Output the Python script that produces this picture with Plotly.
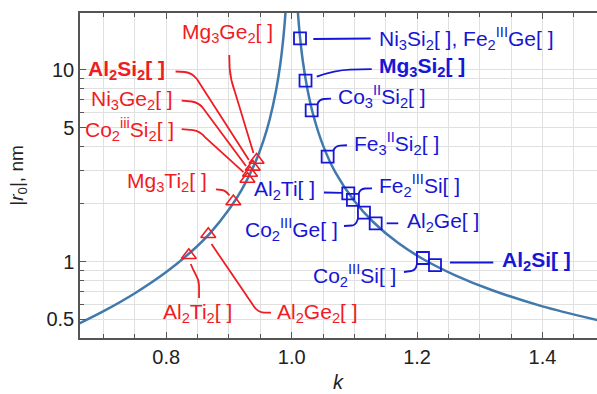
import math
import plotly.graph_objects as go

# Theory curve |r0|(k), read along both branches of the divergence at k = 1
curve_left_k = [0.66, 0.70, 0.75, 0.80, 0.84, 0.87, 0.90, 0.92, 0.94, 0.955,
                0.965, 0.975, 0.982, 0.987, 0.990, 0.992]
curve_left_r = [0.474, 0.552, 0.685, 0.883, 1.13, 1.41, 1.87, 2.36, 3.18, 4.28,
                5.53, 7.78, 10.8, 15.0, 19.6, 24.5]
curve_right_k = [1.008, 1.010, 1.013, 1.018, 1.025, 1.035, 1.05, 1.07, 1.10,
                 1.13, 1.17, 1.21, 1.26, 1.32, 1.40, 1.49]
curve_right_r = [24.7, 19.8, 15.2, 11.0, 7.98, 5.73, 4.04, 2.91, 2.07,
                 1.61, 1.25, 1.03, 0.852, 0.710, 0.585, 0.494]

# Compounds with k < 1 (triangles)
red_labels = [
    "Al<sub>2</sub>Ti<sub>2</sub>[ ]",
    "Al<sub>2</sub>Ge<sub>2</sub>[ ]",
    "Mg<sub>3</sub>Ti<sub>2</sub>[ ]",
    "Co<sub>2</sub><sup>iii</sup>Si<sub>2</sub>[ ]",
    "Ni<sub>3</sub>Ge<sub>2</sub>[ ]",
    "<b>Al<sub>2</sub>Si<sub>2</sub>[ ]</b>",
    "Mg<sub>3</sub>Ge<sub>2</sub>[ ]",
]
red_k = [0.836, 0.867, 0.907, 0.9295, 0.9335, 0.938, 0.944]
red_r = [1.08, 1.39, 2.06, 2.70, 2.90, 3.12, 3.39]

# Compounds with k > 1 (squares)
blue_labels = [
    "Ni<sub>3</sub>Si<sub>2</sub>[ ], Fe<sub>2</sub><sup>III</sup>Ge[ ]",
    "<b>Mg<sub>3</sub>Si<sub>2</sub>[ ]</b>",
    "Co<sub>3</sub><sup>II</sup>Si<sub>2</sub>[ ]",
    "Fe<sub>3</sub><sup>II</sup>Si<sub>2</sub>[ ]",
    "Al<sub>2</sub>Ti[ ]",
    "Fe<sub>2</sub><sup>III</sup>Si[ ]",
    "Co<sub>2</sub><sup>III</sup>Ge[ ]",
    "Al<sub>2</sub>Ge[ ]",
    "Co<sub>2</sub><sup>III</sup>Si[ ]",
    "<b>Al<sub>2</sub>Si[ ]</b>",
]
blue_k = [1.0133, 1.0221, 1.0319, 1.0574, 1.0903, 1.0977, 1.1153, 1.134, 1.2094, 1.2286]
blue_r = [14.6, 8.8, 6.15, 3.53, 2.27, 2.10, 1.80, 1.585, 1.045, 0.96]

x_tick_vals = [0.8, 1.0, 1.2, 1.4]
x_tick_text = ["0.8", "1.0", "1.2", "1.4"]
y_tick_vals = [0.5, 1, 5, 10]
y_tick_text = ["0.5", "1", "5", "10"]

RED = "#f01c24"
BLUE = "#1616d6"
CURVE = "#4179ad"
FONT = "Liberation Sans"

# Label placement relative to each marker, in screen pixels (dx right, dy down):
# (text dx, text dy, text anchor, leader path commands)
red_layout = [
    (8.2, 58, "center", [("M", 1.9, 8.7), ("Q", 4, 14, 7, 19.5), ("Q", 10.2, 25, 10.2, 30), ("L", 10.2, 42.7)]),
    (66.7, 78.3, "left", [("M", 3.2, 9.8), ("L", 44.7, 70.8), ("Q", 49.2, 78.3, 55.7, 78.3), ("L", 62.7, 78.3)]),
    (-24.1, -19.8, "right", [("M", -17.4, -12.2), ("L", -11.4, -11.5), ("Q", -6.9, -10.7, -3.9, -6)]),
    (-71.8, -49.6, "right", [("M", -65.8, -49.9), ("L", -54.5, -48.9), ("Q", -47.5, -47.9, -42.5, -41.9), ("L", -4, -6.9)]),
    (-75, -73, "right", [("M", -68.3, -72.3), ("L", -58.3, -71.5), ("Q", -51.5, -70.7, -47, -65), ("L", -4, -7)]),
    (-85.9, -96.9, "right", [("M", -77.2, -95.4), ("L", -67.9, -94.9), ("Q", -60.9, -94.1, -55.9, -87.9), ("L", -3.9, -6.9)]),
    (-28.6, -127, "center", [("M", -27.3, -105), ("L", -26.9, -92), ("Q", -26.1, -80, -21.6, -68), ("L", -3.1, -7)]),
]
blue_layout = [
    (76.7, -0.1, "left", [("M", 13.3, 0.6), ("L", 70.7, 0.1)]),
    (71.2, -13.8, "left", [("M", 11.2, -4), ("Q", 29.5, -10.5, 44.5, -11), ("L", 66.2, -11.5)]),
    (24.3, -13.7, "left", [("M", 5.8, -6.4), ("Q", 7.3, -10.9, 12.3, -11.4), ("L", 19.3, -11.7)]),
    (24.0, -13.3, "left", [("M", 5.8, -6.1), ("Q", 7.3, -10.6, 12.3, -11.1), ("L", 19.3, -11.4)]),
    (-31.3, -3.4, "right", [("M", -24.3, -0.9), ("L", -6.3, -0.6)]),
    (24.1, -13.9, "left", [("M", 5.8, -6.4), ("Q", 7.1, -10.9, 12.1, -11.4), ("L", 19.1, -11.6)]),
    (-24, 16.3, "right", [("M", -20, 13.3), ("L", -12, 12.8), ("Q", -8, 12.3, -6.5, 7.3), ("L", -6, 5.8)]),
    (29.3, -1.6, "left", [("M", 11, 0), ("L", 22.6, 0)]),
    (-24.7, 17, "right", [("M", -19, 14), ("L", -12, 13), ("Q", -7, 12, -6.2, 6.5)]),
    (65, -4.4, "left", [("M", 15, -2.6), ("L", 58.3, -2.6)]),
]


def leader_path(cmds):
    """SVG path in pixels relative to the anchor point (screen y flipped to up)."""
    parts = []
    for c in cmds:
        op, nums = c[0], c[1:]
        pts = []
        for i in range(0, len(nums), 2):
            pts.append(f"{nums[i]:.1f},{-nums[i + 1]:.1f}")
        parts.append(op + " " + " ".join(pts))
    return " ".join(parts)


fig = go.Figure()

for ks, rs in ((curve_left_k, curve_left_r), (curve_right_k, curve_right_r)):
    fig.add_trace(go.Scatter(
        x=ks, y=rs, mode="lines",
        line=dict(color=CURVE, width=2.5, shape="spline", smoothing=0.8),
        hoverinfo="skip", showlegend=False,
    ))

fig.add_trace(go.Scatter(
    x=red_k, y=red_r, mode="markers",
    marker=dict(symbol="triangle-up-open", size=13, color=RED, line=dict(width=1.6, color=RED)),
    showlegend=False,
))
fig.add_trace(go.Scatter(
    x=blue_k, y=blue_r, mode="markers",
    marker=dict(symbol="square-open", size=12, color=BLUE, line=dict(width=1.8, color=BLUE)),
    showlegend=False,
))

shapes = []
annotations = []
for labels, ks, rs, lay, col in ((red_labels, red_k, red_r, red_layout, RED),
                                 (blue_labels, blue_k, blue_r, blue_layout, BLUE)):
    for text, k, r, (tdx, tdy, anchor, cmds) in zip(labels, ks, rs, lay):
        annotations.append(dict(
            x=k, y=math.log10(r), xref="x", yref="y",
            text=text, showarrow=False,
            xshift=tdx, yshift=-tdy, xanchor=anchor, yanchor="middle",
            font=dict(family=FONT, size=21, color=col),
        ))
        shapes.append(dict(
            type="path", xref="x", yref="y",
            xsizemode="pixel", ysizemode="pixel", xanchor=k, yanchor=r,
            path=leader_path(cmds),
            line=dict(color=col, width=1.8),
        ))

# x-axis title, placed below the tick labels at the bottom of the figure
annotations.append(dict(
    x=0.5, y=0, xref="paper", yref="paper", text="<i>k</i>", showarrow=False,
    xanchor="center", yanchor="bottom", yshift=-56, borderpad=0,
    font=dict(family=FONT, size=20, color="#222"),
))

fig.update_layout(
    width=597, height=394,
    margin=dict(l=80, r=0, t=13, b=56, autoexpand=False),
    plot_bgcolor="white", paper_bgcolor="white",
    font=dict(family=FONT, size=20, color="#222"),
    shapes=shapes, annotations=annotations,
    showlegend=False,
)

fig.update_xaxes(
    range=[0.6624, 1.487], automargin=False,
    tickmode="array", tickvals=x_tick_vals, ticktext=x_tick_text,
    ticks="inside", ticklen=6, tickwidth=1.2, tickcolor="#555",
    showline=True, linecolor="#555", linewidth=1.5, mirror="ticks",
    showgrid=True, gridcolor="#e0e0e0", gridwidth=1,
    minor=dict(dtick=0.05, tick0=0.0, ticks="inside", ticklen=4, tickcolor="#555",
               showgrid=True, gridcolor="#e0e0e0", gridwidth=1),
    tickfont=dict(size=20, color="#222"),
    zeroline=False,
)
fig.update_yaxes(
    type="log", range=[math.log10(0.40), math.log10(19.8)], automargin=False,
    tickmode="array", tickvals=y_tick_vals, ticktext=y_tick_text,
    ticks="inside", ticklen=6, tickwidth=1.2, tickcolor="#555",
    showline=True, linecolor="#555", linewidth=1.5, mirror=False,
    showgrid=True, gridcolor="#e0e0e0", gridwidth=1,
    minor=dict(tickmode="array",
               tickvals=[0.4, 0.6, 0.7, 0.8, 0.9, 2, 3, 4, 6, 7, 8, 9, 20],
               ticks="inside", ticklen=4, tickcolor="#555",
               showgrid=True, gridcolor="#e0e0e0", gridwidth=1),
    tickfont=dict(size=20, color="#222"),
    title=dict(text="|<i>r</i><sub>0</sub>|, nm", font=dict(size=19, color="#222"), standoff=18),
    zeroline=False,
)

fig.write_html("out.html")
